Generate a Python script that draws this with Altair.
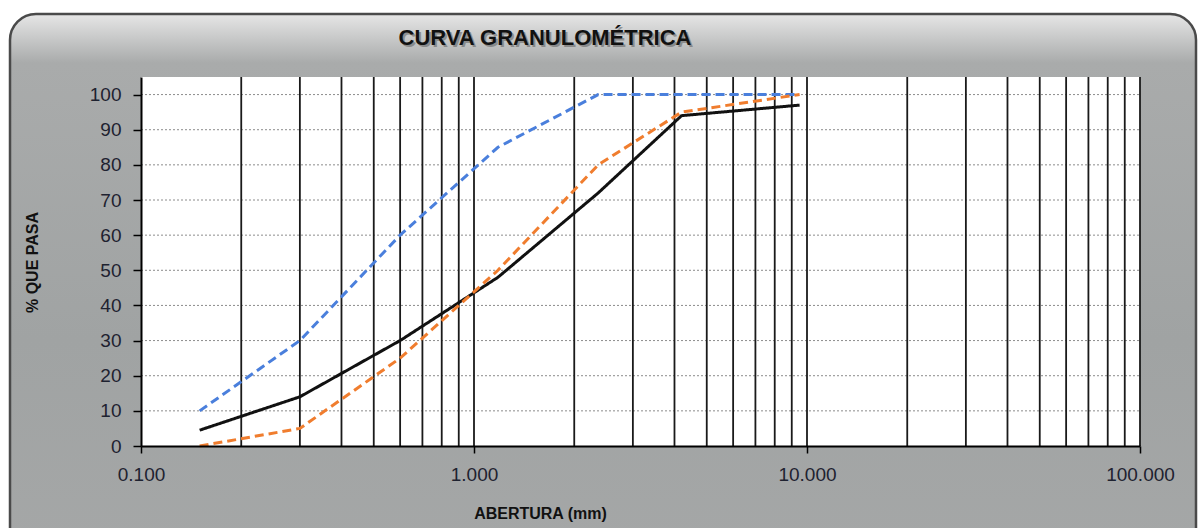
import altair as alt
import pandas as pd

# ---- data ----
sieve_mm = [0.15, 0.3, 0.6, 1.18, 2.36, 4.2, 9.5]
muestra = [4.5, 14, 30, 48, 72, 94, 97]
limite_superior = [10, 30, 60, 85, 100, 100, 100]
limite_inferior = [0, 5, 25, 50, 80, 95, 100]

series_names = ["Límite superior", "Límite inferior", "Muestra"]
series_colors = ["#4a7fdc", "#f07d2e", "#111111"]
series_dash = [[9, 5], [9, 5], [1, 0]]

x_grid = [0.2, 0.3, 0.4, 0.5, 0.6, 0.7, 0.8, 0.9, 1, 2, 3, 4, 5, 6, 7, 8, 9,
          10, 20, 30, 40, 50, 60, 70, 80, 90, 100]
y_grid = [10, 20, 30, 40, 50, 60, 70, 80, 90, 100]
x_ticks = [0.1, 1, 10, 100]
y_ticks = [0, 10, 20, 30, 40, 50, 60, 70, 80, 90, 100]

title_text = "CURVA GRANULOMÉTRICA"
x_title = "ABERTURA (mm)"
y_title = "% QUE PASA"

FONT = "Liberation Sans, Arial, sans-serif"
W, H = 999, 369

rows = []
for name, vals in zip(["Muestra", "Límite superior", "Límite inferior"],
                      [muestra, limite_superior, limite_inferior]):
    for s, v in zip(sieve_mm, vals):
        rows.append({"abertura": s, "pasa": v, "serie": name})
df_lines = pd.DataFrame(rows)
df_xg = pd.DataFrame({"abertura": x_grid})
df_yg = pd.DataFrame({"pasa": y_grid})
one = pd.DataFrame({"a": [0]})

xscale = alt.Scale(type="log", domain=[0.1, 100], nice=False)
yscale = alt.Scale(domain=[0, 105], nice=False, zero=True)

xaxis = alt.Axis(values=x_ticks, format=".3f", grid=False, zindex=1,
                 domainColor="#000", domainWidth=2, tickColor="#000", tickWidth=1.5,
                 tickSize=7, labelPadding=12, labelFont=FONT, labelFontSize=19,
                 labelColor="#1e2230", title=x_title, titleFont=FONT, titleFontSize=16,
                 titleFontWeight="bold", titleColor="#111", titleX=399, titleY=67,
                 titleAlign="center", titleBaseline="middle", labelFlush=False)
yaxis = alt.Axis(values=y_ticks, format="d", grid=False, zindex=1,
                 domainColor="#000", domainWidth=2, tickColor="#000", tickWidth=1.5,
                 tickSize=8, labelPadding=12, labelFont=FONT, labelFontSize=19,
                 labelColor="#1e2230", title=y_title, titleFont=FONT, titleFontSize=16,
                 titleFontWeight="bold", titleColor="#111", titleX=-109, titleY=185,
                 titleAngle=270, titleAlign="center", titleBaseline="middle")

gradient = alt.LinearGradient(
    gradient="linear",
    stops=[alt.GradientStop(color="#e6e6e6", offset=0),
           alt.GradientStop(color="#a9abab", offset=0.09),
           alt.GradientStop(color="#a0a3a3", offset=0.6),
           alt.GradientStop(color="#a5a7a7", offset=1)],
    x1=0, x2=0, y1=0, y2=1)

bg = alt.Chart(one).mark_rect(fill=gradient, cornerRadius=26, stroke="#4a4a4a",
                              strokeWidth=2.5).encode(
    x=alt.value(-131), x2=alt.value(1055), y=alt.value(-63), y2=alt.value(480))

plot_bg = alt.Chart(one).mark_rect(fill="white").encode(
    x=alt.value(0), x2=alt.value(W), y=alt.value(0), y2=alt.value(H))

hgrid = alt.Chart(df_yg).mark_rule(color="#8c8c8c", strokeDash=[2, 2], strokeWidth=1).encode(
    y=alt.Y("pasa:Q", scale=yscale, axis=yaxis),
    x=alt.value(0), x2=alt.value(W))

vgrid = alt.Chart(df_xg).mark_rule(color="#1a1a1a", strokeWidth=1.8).encode(
    x=alt.X("abertura:Q", scale=xscale, axis=xaxis),
    y=alt.value(0), y2=alt.value(H))

lines = alt.Chart(df_lines).mark_line(strokeWidth=3).encode(
    x=alt.X("abertura:Q", scale=xscale, axis=xaxis),
    y=alt.Y("pasa:Q", scale=yscale, axis=yaxis),
    color=alt.Color("serie:N", scale=alt.Scale(domain=series_names, range=series_colors),
                    legend=None),
    strokeDash=alt.StrokeDash("serie:N", scale=alt.Scale(domain=series_names, range=series_dash),
                              legend=None),
    order=alt.Order("abertura:Q"),
)

title_shadow = alt.Chart(one).mark_text(text=title_text, font=FONT, fontSize=22,
                                        fontWeight="bold", align="center", baseline="middle",
                                        color="#555", opacity=0.5).encode(
    x=alt.value(406), y=alt.value(-37))
title = alt.Chart(one).mark_text(text=title_text, font=FONT, fontSize=22,
                                 fontWeight="bold", align="center", baseline="middle",
                                 color="#111").encode(
    x=alt.value(404), y=alt.value(-39))

chart = alt.layer(bg, plot_bg, hgrid, vgrid, lines, title_shadow, title).properties(
    width=W, height=H,
    padding={"left": 141, "top": 77, "right": 60, "bottom": 82},
    autosize=alt.AutoSizeParams(type="none"),
).configure_view(stroke=None).configure(background="white")

chart.save("out.html", embed_options={"renderer": "svg", "actions": False})
